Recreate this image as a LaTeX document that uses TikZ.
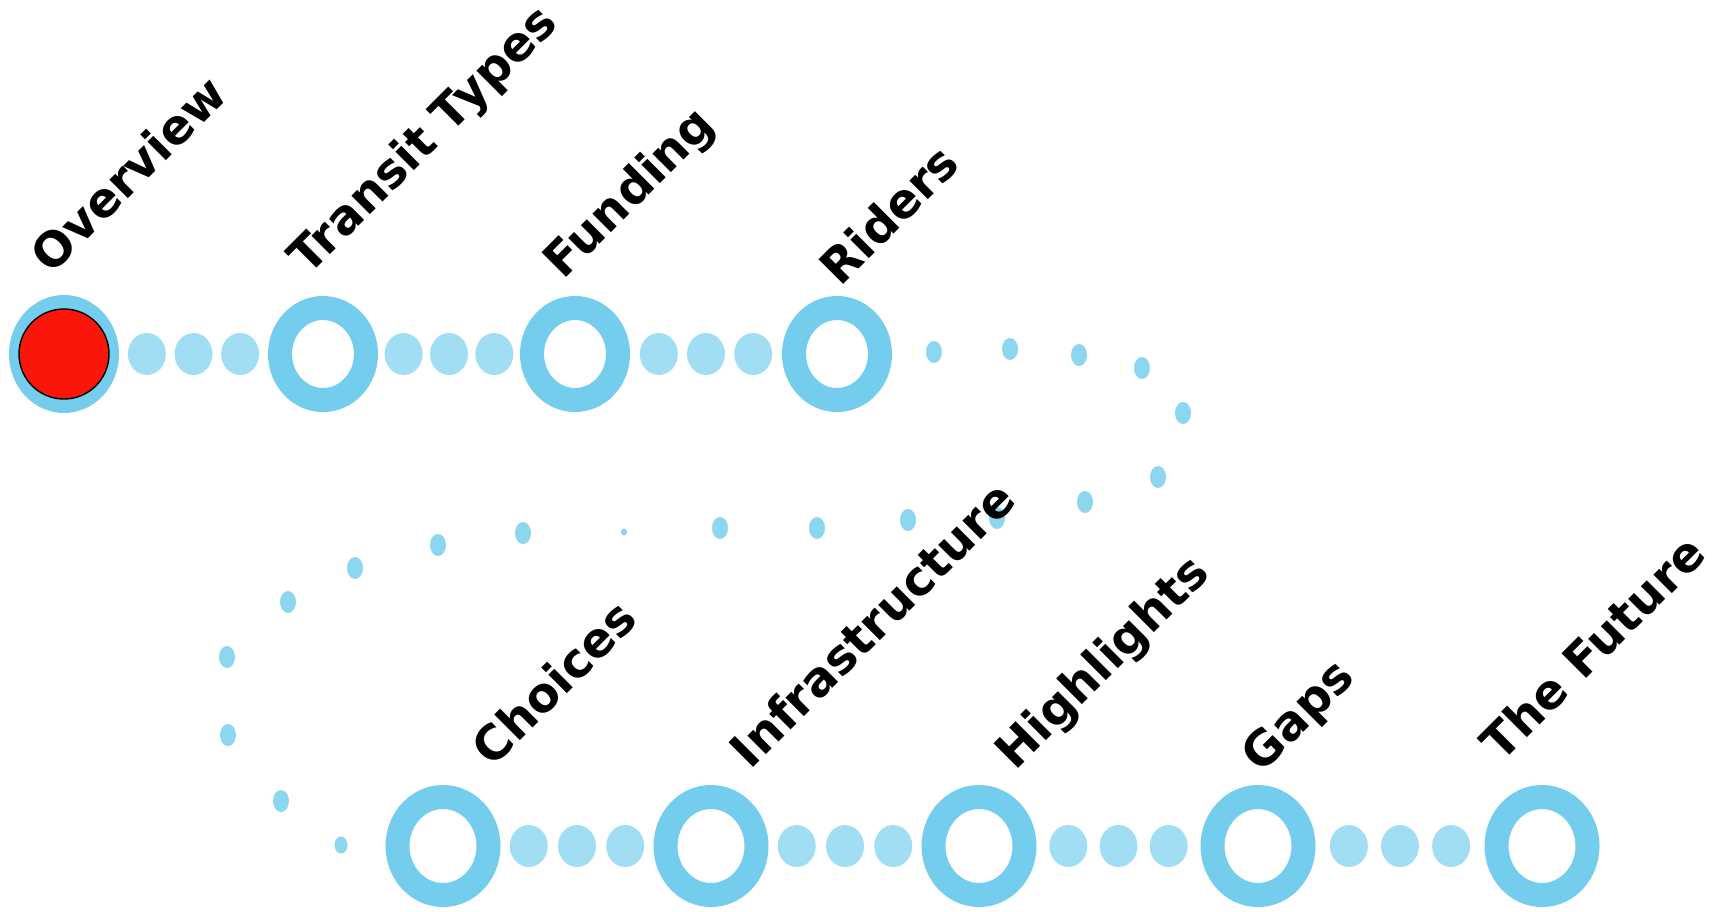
\documentclass[tikz,border=0pt]{standalone}
\usepackage{fontspec}
\setmainfont{DejaVu Sans}
\usetikzlibrary{shapes.geometric, positioning, calc}

\definecolor{ringblue}{RGB}{116,205,236}
\definecolor{dotblue}{RGB}{162,222,243}
\definecolor{trailblue}{RGB}{140,214,240}
\definecolor{startred}{RGB}{250,22,10}

\tikzset{
    stop/.style={ellipse, draw=ringblue, line width=0.24cm, fill=white,
        minimum width=0.86cm, minimum height=0.92cm, inner sep=0},
    lowstop/.style={stop, minimum width=0.91cm, minimum height=0.98cm},
    dot/.style={ellipse, fill=dotblue, minimum width=0.38cm, minimum height=0.42cm, inner sep=0},
    trail/.style={ellipse, fill=trailblue, minimum width=0.16cm, minimum height=0.22cm, inner sep=0},
    lbl/.style={rotate=45, anchor=base west, inner sep=0,
        font=\fontsize{13.6}{16}\selectfont\bfseries},
}

\begin{document}
\begin{tikzpicture}

        \useasboundingbox (0, 0) rectangle (17.15, 9.11);

        % top line
        \node[ellipse, fill=ringblue, minimum width=1.1cm, minimum height=1.18cm, inner sep=0] (ov) at (0.64, 5.57) {};
        \node[circle, draw=black, thin, fill=startred, minimum size=0.9cm, inner sep=0] (ovred) at (ov.center) {};
        \node[stop] (tt) at (3.23, 5.57) {};
        \node[stop] (fu) at (5.75, 5.57) {};
        \node[stop] (ri) at (8.37, 5.57) {};

        % bottom line
        \node[lowstop] (ch) at (4.43, 0.65) {};
        \node[lowstop] (in) at (7.11, 0.65) {};
        \node[lowstop] (hi) at (9.79, 0.65) {};
        \node[lowstop] (ga) at (12.58, 0.65) {};
        \node[lowstop] (fut) at (15.42, 0.65) {};

        % dots between the stops
        \foreach \a/\b in {ov/tt, tt/fu, fu/ri, ch/in, in/hi, hi/ga, ga/fut}
            \path (\a.center) -- (\b.center)
                node[dot, pos=0.32] {} node[dot, pos=0.5] {} node[dot, pos=0.68] {};

        % the long way round from Riders to Choices
        \foreach \p in {(9.34,5.59), (10.10,5.62), (10.79,5.56), (11.42,5.43), (11.83,4.98),
                        (11.58,4.34), (10.85,4.09), (9.97,3.93), (9.08,3.91), (8.17,3.83),
                        (7.20,3.83), (5.23,3.78), (4.38,3.66), (3.55,3.43), (2.88,3.09),
                        (2.27,2.54), (2.28,1.76), (2.81,1.10)}
            \node[trail] at \p {};
        \node[trail, minimum width=0.06cm, minimum height=0.07cm] at (6.24, 3.79) {};
        \node[trail, minimum width=0.13cm, minimum height=0.17cm] at (3.41, 0.66) {};

        % names
        \node[lbl] (tov) at (0.51, 6.35) {Overview};
        \node[lbl] (ttt) at (3.08, 6.34) {Transit Types};
        \node[lbl] (tfu) at (5.63, 6.30) {Funding};
        \node[lbl] (tri) at (8.40, 6.23) {Riders};
        \node[lbl] (tch) at (4.92, 1.42) {Choices};
        \node[lbl] (tin) at (7.50, 1.40) {Infrastructure};
        \node[lbl] (thi) at (10.15, 1.39) {Highlights};
        \node[lbl] (tga) at (12.61, 1.36) {Gaps};
        \node[lbl] (tfut) at (15.01, 1.47) {The Future};

\end{tikzpicture}
\end{document}
